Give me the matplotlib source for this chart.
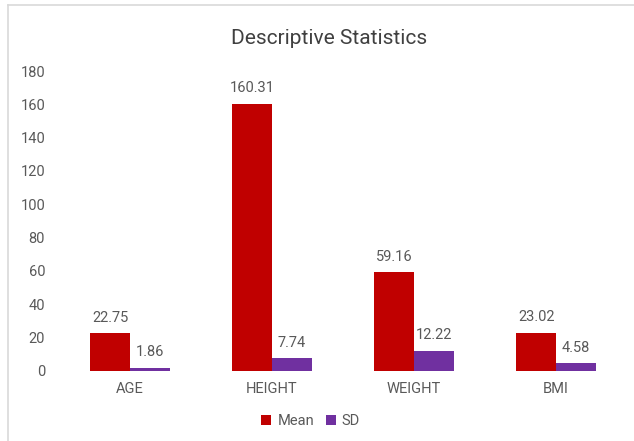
import matplotlib.pyplot as plt
from matplotlib.lines import Line2D
import numpy as np

plt.rcParams['font.family'] = ['Roboto', 'DejaVu Sans']

# Data
categories = ['AGE', 'HEIGHT', 'WEIGHT', 'BMI']
mean_vals = [22.75, 160.31, 59.16, 23.02]
sd_vals = [1.86, 7.74, 12.22, 4.58]
series_names = ['Mean', 'SD']

text_color = '#595959'
red = '#C00000'
purple = '#7030A0'

fig = plt.figure(figsize=(6.34, 4.41), dpi=100)
ax = fig.add_axes([0.093, 0.159, 0.896, 0.68])

x = np.arange(len(categories))
w = 0.28
b1 = ax.bar(x - w / 2, mean_vals, w, color=red, label=series_names[0])
b2 = ax.bar(x + w / 2, sd_vals, w, color=purple, label=series_names[1])

# Value labels
for bars in (b1, b2):
    for r in bars:
        ax.annotate(f'{r.get_height():.2f}', (r.get_x() + r.get_width() / 2, r.get_height()),
                    xytext=(0, 6), textcoords='offset points', ha='center', va='bottom',
                    fontsize=10.5, color=text_color)

ax.set_ylim(0, 180)
ax.set_yticks(np.arange(0, 181, 20))
ax.set_xlim(-0.5, len(categories) - 0.5)
ax.set_xticks(x)
ax.set_xticklabels(categories)
ax.tick_params(axis='both', length=0, labelsize=10.5, colors=text_color)
ax.tick_params(axis='y', pad=10)
ax.tick_params(axis='x', pad=8)
for s in ax.spines.values():
    s.set_visible(False)

fig.text(0.519, 0.912, 'Descriptive Statistics', ha='center', va='center', fontsize=15, color='#404040')

fig.legend(handles=[b1, b2], loc='center', bbox_to_anchor=(0.49, 0.045), ncol=2, frameon=False,
           fontsize=10.5, handlelength=0.7, handleheight=0.7, handletextpad=0.4, columnspacing=0.8,
           labelcolor=text_color)

# Chart border (top and left edges of the screenshot)
bx = 8 / 634
by = 1 - 5 / 441
fig.add_artist(Line2D([bx, 1.0], [by, by], transform=fig.transFigure, color='#d9d9d9', lw=1.2))
fig.add_artist(Line2D([bx, bx], [0, by], transform=fig.transFigure, color='#d9d9d9', lw=1.2))

fig.savefig('out.png', dpi=100)
